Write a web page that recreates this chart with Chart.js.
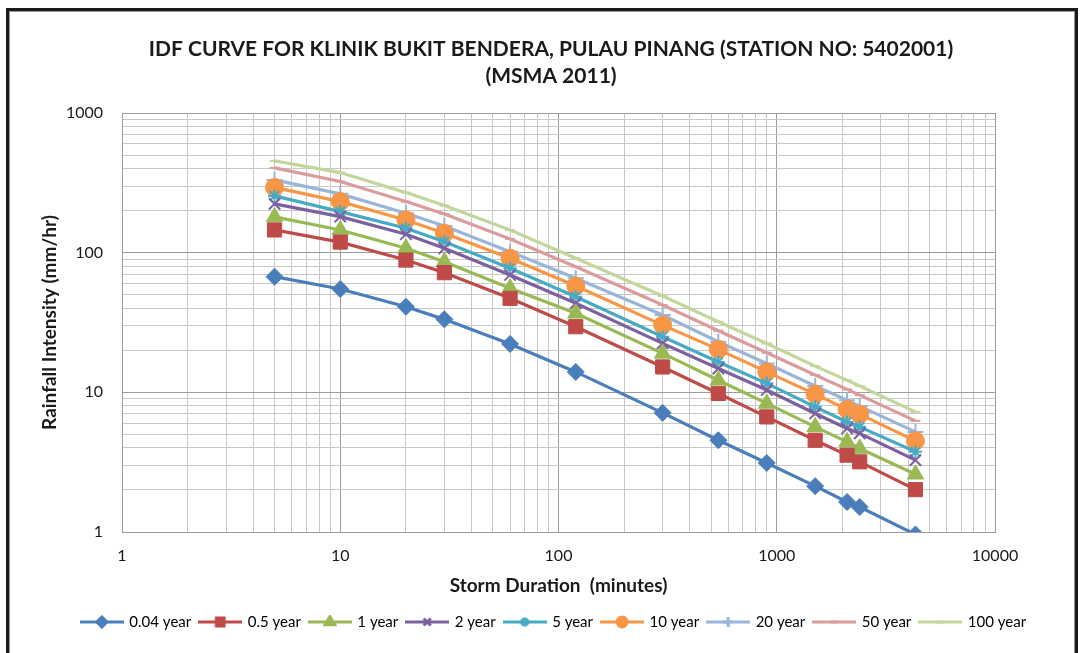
<!DOCTYPE html>
<html><head><meta charset="utf-8">
<script src="https://cdn.jsdelivr.net/npm/chart.js@4.4.1/dist/chart.umd.min.js"></script>
<style>
html,body{margin:0;padding:0;background:#fff;overflow:hidden;}
#frame{position:absolute;left:6px;top:8px;width:1066px;height:680px;border:3px solid #1a1a1a;box-shadow:inset 0 0 0 1px #9a9a9a;}
#wrap{position:absolute;left:0;top:0;width:1080px;height:653px;}
</style></head><body>
<div id="frame"></div>
<div id="wrap"><canvas id="c" width="1080" height="653"></canvas></div>
<script>
// ---- data ----
const durations = [5, 10, 20, 30, 60, 120, 300, 540, 900, 1500, 2100, 2400, 4320];
const seriesNames = ['0.04 year', '0.5 year', '1 year', '2 year', '5 year', '10 year', '20 year', '50 year', '100 year'];
const i004 = [67.3, 54.9, 41.0, 33.3, 22.2, 14.0, 7.13, 4.54, 3.12, 2.13, 1.64, 1.51, 0.96];
const i05  = [145.5, 119, 88.5, 71.9, 47.1, 29.5, 15.2, 9.82, 6.67, 4.54, 3.55, 3.18, 2.01];
const i1   = [180.3, 145.4, 107.5, 86.2, 55.6, 36.8, 19.0, 12.2, 8.33, 5.66, 4.42, 3.96, 2.59];
const i2   = [223.4, 181.2, 135.5, 107.5, 69.2, 43.4, 22.4, 14.8, 10.4, 7.06, 5.51, 5.08, 3.27];
const i5   = [255, 196.8, 149.6, 119.9, 77.3, 48.4, 25.0, 16.5, 11.6, 7.87, 6.14, 5.66, 3.75];
const i10  = [293.4, 232, 171.6, 137.8, 91.2, 57.7, 30.3, 20.3, 14.0, 9.71, 7.54, 6.98, 4.49];
const i20  = [332, 263.6, 191.6, 155.4, 101.7, 65.5, 35.8, 23.0, 16.1, 11.1, 8.79, 7.96, 5.21];
const i50  = [404.7, 323, 232.1, 189.4, 125.4, 79.4, 42.2, 27.6, 19.2, 13.3, 10.5, 9.55, 6.25];
const i100 = [454, 374.6, 269.2, 217.3, 145.4, 91.2, 48.9, 32.0, 22.4, 15.4, 12.2, 11.1, 7.25];
const xTickValues = [1,2,3,4,5,6,7,8,9,10,20,30,40,50,60,70,80,90,100,200,300,400,500,600,700,800,900,1000,2000,3000,4000,5000,6000,7000,8000,9000,10000];
const xTickLabels = ['1', '10', '100', '1000', '10000'];
const yTickValues = [1,2,3,4,5,6,7,8,9,10,20,30,40,50,60,70,80,90,100,200,300,400,500,600,700,800,900,1000];
const yTickLabels = ['1', '10', '100', '1000'];
const titleLines = ['IDF CURVE FOR KLINIK BUKIT BENDERA, PULAU PINANG (STATION NO: 5402001)', '(MSMA 2011)'];
const xTitle = 'Storm Duration  (minutes)';
const yTitle = 'Rainfall Intensity (mm/hr)';

// ---- styles ----
const seriesValues = [i004, i05, i1, i2, i5, i10, i20, i50, i100];
const colors = ['#4A7EBB', '#BE4B48', '#98B954', '#7D60A0', '#46AAC5', '#F79646', '#98B5DA', '#DA9C9C', '#C3D69B'];
const markers = ['rectRot', 'rect', 'triangle', 'crossRot', 'star', 'circle', 'cross', 'line', 'line'];
const radii = [8.5, 10, 9.5, 8, 6.5, 9, 8, 5, 5];
const legendRadii = [5, 5.5, 5.5, 5, 4.5, 5, 5, 3.5, 3.5];

const FONT = 'Lato, "Open Sans", sans-serif';
const TXT = '#1a1a1a';
const PAD_L = 28, PAD_B = 13.5, PLOT_TOP = 113, PLOT_BOTTOM = 532, PLOT_LEFT = 122, RIGHT_GAP = 85;
const isMajor = v => Math.abs(Math.log10(v) - Math.round(Math.log10(v))) < 1e-9;

function legendIcon(i) {
  const cv = document.createElement('canvas');
  cv.width = 44; cv.height = 14;
  const g = cv.getContext('2d');
  g.strokeStyle = colors[i]; g.fillStyle = colors[i];
  g.lineWidth = 3;
  g.beginPath(); g.moveTo(0, 7); g.lineTo(44, 7); g.stroke();
  Chart.helpers.drawPoint(g, {pointStyle: markers[i], radius: legendRadii[i], borderWidth: 1.5, rotation: 0}, 22, 7);
  return cv;
}

const titlePlugin = {
  id: 'twoLineTitle',
  afterDraw(chart) {
    const ctx = chart.ctx;
    ctx.save();
    ctx.fillStyle = TXT;
    ctx.font = 'bold 21px ' + FONT;
    ctx.textAlign = 'center';
    ctx.textBaseline = 'middle';
    ctx.fillText(titleLines[0], 551, 49);
    ctx.fillText(titleLines[1], 551, 76);
    ctx.restore();
  }
};

const datasets = seriesNames.map((name, i) => ({
  label: name,
  data: durations.map((d, k) => ({x: d, y: seriesValues[i][k]})),
  borderColor: colors[i],
  backgroundColor: colors[i],
  borderWidth: 3.2,
  pointStyle: markers[i],
  pointRadius: radii[i],
  pointBorderWidth: (['crossRot', 'star', 'cross', 'line'].includes(markers[i])) ? 2 : 1,
  pointBackgroundColor: colors[i],
  pointBorderColor: colors[i],
  tension: 0,
  fill: false
}));

const gridColor = (c) => (c.tick && isMajor(c.tick.value)) ? '#9C9C9C' : '#C8C8C8';

new Chart(document.getElementById('c'), {
  type: 'line',
  data: {datasets},
  plugins: [titlePlugin],
  options: {
    responsive: false,
    animation: false,
    devicePixelRatio: 1,
    layout: {padding: {top: PLOT_TOP, left: PAD_L, right: 0, bottom: PAD_B}},
    plugins: {
      tooltip: {enabled: false},
      title: {display: false},
      legend: {
        position: 'bottom',
        labels: {
          usePointStyle: true,
          pointStyleWidth: 40,
          padding: 9,
          color: TXT,
          font: {family: FONT, size: 15},
          generateLabels: (chart) => chart.data.datasets.map((ds, i) => ({
            text: ds.label, pointStyle: legendIcon(i), fillStyle: colors[i],
            strokeStyle: colors[i], lineWidth: 0, hidden: false, datasetIndex: i
          }))
        }
      }
    },
    scales: {
      x: {
        type: 'logarithmic',
        min: 1, max: 10000,
        afterBuildTicks: (s) => { s.ticks = xTickValues.map(v => ({value: v, major: isMajor(v)})); },
        afterFit: (s) => { s.height = 653 - PAD_B - s.chart.legend.height - PLOT_BOTTOM; },
        ticks: {
          autoSkip: false, maxRotation: 0, padding: 14, color: TXT,
          font: {family: FONT, size: 16},
          callback: (v) => xTickLabels.includes(String(v)) ? String(v) : ''
        },
        grid: {color: gridColor, drawTicks: false, lineWidth: 1},
        border: {color: '#9C9C9C'},
        title: {display: true, text: xTitle, color: TXT, font: {family: FONT, size: 19, weight: 'bold', lineHeight: 1.2}, padding: {top: 0, bottom: 8}}
      },
      y: {
        type: 'logarithmic',
        min: 1, max: 1000,
        afterBuildTicks: (s) => { s.ticks = yTickValues.map(v => ({value: v, major: isMajor(v)})); },
        afterFit: (s) => { s.width = PLOT_LEFT - PAD_L; },
        ticks: {
          autoSkip: false, padding: 19, color: TXT,
          font: {family: FONT, size: 16},
          callback: (v) => yTickLabels.includes(String(v)) ? String(v) : ''
        },
        grid: {color: gridColor, drawTicks: false, lineWidth: 1},
        border: {color: '#9C9C9C'},
        title: {display: true, text: yTitle, color: TXT, font: {family: FONT, size: 19, weight: 'bold', lineHeight: 1.2}, padding: {top: 50 - PAD_L - 11.4, bottom: 0}}
      },
      yGap: {
        position: 'right',
        display: true,
        afterFit: (s) => { s.width = RIGHT_GAP; },
        ticks: {display: false},
        grid: {display: false, drawTicks: false},
        border: {display: false}
      }
    }
  }
});
</script>
</body></html>
